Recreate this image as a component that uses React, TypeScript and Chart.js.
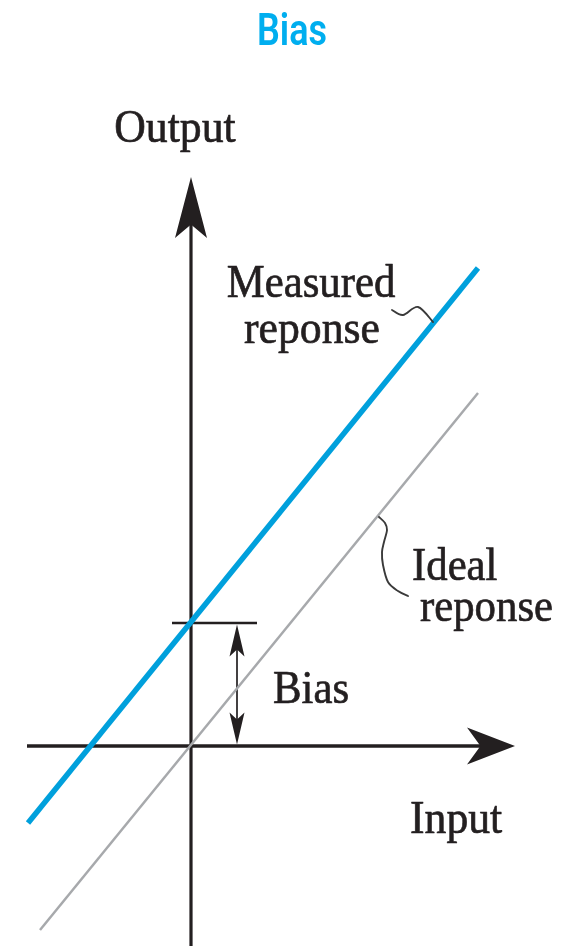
import { useEffect, useRef } from "react";
import { Chart, registerables } from "chart.js";

Chart.register(...registerables);

// ---- data (in chart units; origin = where the axes cross) ----
const xRange = [-1.91, 3.84];
const yRange = [-2.0, 7.46];
const measuredX = [-1.63, 2.87];
const measuredY = [-0.77, 4.78];
const idealX = [-1.51, 2.87];
const idealY = [-1.84, 3.53];
const biasValue = 1.23;
const inputAxisExtent = [-1.64, 3.24];
const outputAxisExtent = [-2.0, 5.69];
const biasBracketX = [-0.19, 0.66];
const biasArrowX = 0.46;

const chartTitle = "Bias";
const axisLabels = ["Output", "Input"];
const measuredLabel = ["Measured", "reponse"];
const idealLabel = ["Ideal", "reponse"];
const biasLabel = "Bias";

// leader curves (chart units)
const measuredLeaderX = [2.01, 2.12, 2.27, 2.42];
const measuredLeaderY = [4.36, 4.31, 4.39, 4.24];
const idealLeaderX = [1.88, 1.94, 1.96, 1.93, 1.91, 1.92, 1.97, 2.07, 2.17];
const idealLeaderY = [2.29, 2.23, 2.16, 2.04, 1.94, 1.81, 1.64, 1.55, 1.50];

const INK = "#231f20";
const BLUE = "#00a0dc";
const GRAY = "#a7a9ac";
const TITLE_BLUE = "#00aeef";
const SERIF = '"Liberation Serif", "DejaVu Serif", serif';

function arrowHead(ctx: CanvasRenderingContext2D, tx: number, ty: number, dx: number, dy: number, L: number, W: number, notch: number) {
  const px = -dy, py = dx;
  ctx.beginPath();
  ctx.moveTo(tx, ty);
  ctx.lineTo(tx - dx * L + px * W, ty - dy * L + py * W);
  ctx.lineTo(tx - dx * L * notch, ty - dy * L * notch);
  ctx.lineTo(tx - dx * L - px * W, ty - dy * L - py * W);
  ctx.closePath();
  ctx.fill();
}

function smoothPath(ctx: CanvasRenderingContext2D, pts: number[][]) {
  ctx.beginPath();
  ctx.moveTo(pts[0][0], pts[0][1]);
  for (let i = 0; i < pts.length - 1; i++) {
    const p0 = pts[Math.max(0, i - 1)], p1 = pts[i], p2 = pts[i + 1], p3 = pts[Math.min(pts.length - 1, i + 2)];
    const c1x = p1[0] + (p2[0] - p0[0]) / 6, c1y = p1[1] + (p2[1] - p0[1]) / 6;
    const c2x = p2[0] - (p3[0] - p1[0]) / 6, c2y = p2[1] - (p3[1] - p1[1]) / 6;
    ctx.bezierCurveTo(c1x, c1y, c2x, c2y, p2[0], p2[1]);
  }
  ctx.stroke();
}

function drawText(ctx: CanvasRenderingContext2D, text: string, x: number, y: number, font: string, color: string, align: "left" | "center", sx: number, stroke: number) {
  ctx.save();
  ctx.font = font;
  ctx.fillStyle = color;
  ctx.strokeStyle = color;
  ctx.textBaseline = "alphabetic";
  ctx.textAlign = "left";
  const w = ctx.measureText(text).width * sx;
  const left = align === "center" ? x - w / 2 : x;
  ctx.translate(left, y);
  ctx.scale(sx, 1);
  ctx.fillText(text, 0, 0);
  if (stroke > 0) {
    ctx.lineWidth = stroke;
    ctx.lineJoin = "round";
    ctx.strokeText(text, 0, 0);
  }
  ctx.restore();
}

const diagramPlugin = {
  id: "biasDiagram",
  beforeDatasetsDraw(chart: any) {
    const { ctx } = chart;
    const xs = chart.scales.x, ys = chart.scales.y;
    const X = (v: number) => xs.getPixelForValue(v);
    const Y = (v: number) => ys.getPixelForValue(v);
    const x0 = X(0), y0 = Y(0);
    ctx.save();
    ctx.strokeStyle = INK;
    ctx.fillStyle = INK;
    ctx.lineCap = "butt";

    // Output axis
    const vTip = Y(outputAxisExtent[1]);
    ctx.lineWidth = 3.2;
    ctx.beginPath();
    ctx.moveTo(x0, Y(outputAxisExtent[0]));
    ctx.lineTo(x0, vTip + 40);
    ctx.stroke();
    arrowHead(ctx, x0, vTip, 0, -1, 61, 16, 0.78);

    // Input axis
    const hTip = X(inputAxisExtent[1]);
    ctx.lineWidth = 3.6;
    ctx.beginPath();
    ctx.moveTo(X(inputAxisExtent[0]), y0);
    ctx.lineTo(hTip - 30, y0);
    ctx.stroke();
    arrowHead(ctx, hTip, y0, 1, 0, 48, 18.5, 0.72);

    // Bias bracket
    const yb = Y(biasValue);
    ctx.lineWidth = 2.6;
    ctx.beginPath();
    ctx.moveTo(X(biasBracketX[0]), yb);
    ctx.lineTo(X(biasBracketX[1]), yb);
    ctx.stroke();
    const xa = X(biasArrowX);
    ctx.lineWidth = 1.7;
    ctx.beginPath();
    ctx.moveTo(xa, yb + 20);
    ctx.lineTo(xa, y0 - 20);
    ctx.stroke();
    arrowHead(ctx, xa, yb + 1.5, 0, -1, 32, 7.5, 0.78);
    arrowHead(ctx, xa, y0 - 1.5, 0, 1, 32, 7.5, 0.78);
    ctx.restore();
  },
  afterDatasetsDraw(chart: any) {
    const { ctx } = chart;
    const xs = chart.scales.x, ys = chart.scales.y;
    const X = (v: number) => xs.getPixelForValue(v);
    const Y = (v: number) => ys.getPixelForValue(v);
    ctx.save();
    ctx.strokeStyle = "#3a3a3a";
    ctx.lineWidth = 1.9;
    ctx.lineCap = "round";
    smoothPath(ctx, measuredLeaderX.map((v, i) => [X(v), Y(measuredLeaderY[i])]));
    smoothPath(ctx, idealLeaderX.map((v, i) => [X(v), Y(idealLeaderY[i])]));
    ctx.restore();

    const serif = (s: number) => `${s}px ${SERIF}`;
    const SX = 0.93;
    const ST = 0.7;
    drawText(ctx, chartTitle, X(1.01), Y(7.01), `600 45px Roboto, "Open Sans", sans-serif`, TITLE_BLUE, "center", 0.8, 0);
    drawText(ctx, axisLabels[0], X(-0.16), Y(6.04), serif(47), INK, "center", SX, ST);
    drawText(ctx, axisLabels[1], X(2.19), Y(-0.87), serif(47), INK, "left", SX, ST);
    drawText(ctx, measuredLabel[0], X(1.2), Y(4.49), serif(47), INK, "center", 0.91, ST);
    drawText(ctx, measuredLabel[1], X(1.21), Y(4.03), serif(47), INK, "center", SX, ST);
    drawText(ctx, idealLabel[0], X(2.21), Y(1.66), serif(46), INK, "left", SX, ST);
    drawText(ctx, idealLabel[1], X(2.29), Y(1.25), serif(46), INK, "left", SX, ST);
    drawText(ctx, biasLabel, X(0.82), Y(0.43), serif(46), INK, "left", SX, ST);
  },
};

export default function App() {
  const ref = useRef<HTMLCanvasElement>(null);
  useEffect(() => {
    if (!ref.current) return;
    const chart = new Chart(ref.current, {
      type: "scatter",
      data: {
        datasets: [
          {
            label: "Ideal reponse",
            data: idealX.map((v, i) => ({ x: v, y: idealY[i] })),
            showLine: true,
            borderColor: GRAY,
            borderWidth: 2.5,
            pointRadius: 0,
            borderCapStyle: "butt",
          },
          {
            label: "Measured reponse",
            data: measuredX.map((v, i) => ({ x: v, y: measuredY[i] })),
            showLine: true,
            borderColor: BLUE,
            borderWidth: 5.5,
            pointRadius: 0,
            borderCapStyle: "butt",
          },
        ],
      },
      options: {
        animation: false,
        responsive: false,
        devicePixelRatio: 1,
        layout: { padding: 0 },
        scales: {
          x: { type: "linear", min: xRange[0], max: xRange[1], display: false },
          y: { type: "linear", min: yRange[0], max: yRange[1], display: false },
        },
        plugins: { legend: { display: false }, tooltip: { enabled: false }, title: { display: false } },
      },
      plugins: [diagramPlugin],
    } as any);
    return () => chart.destroy();
  }, []);
  return (
    <div style={{ position: "absolute", left: 0, top: 0, width: 575, height: 946, background: "#fff" }}>
      <canvas ref={ref} width={575} height={946} style={{ display: "block", width: 575, height: 946 }} />
    </div>
  );
}
